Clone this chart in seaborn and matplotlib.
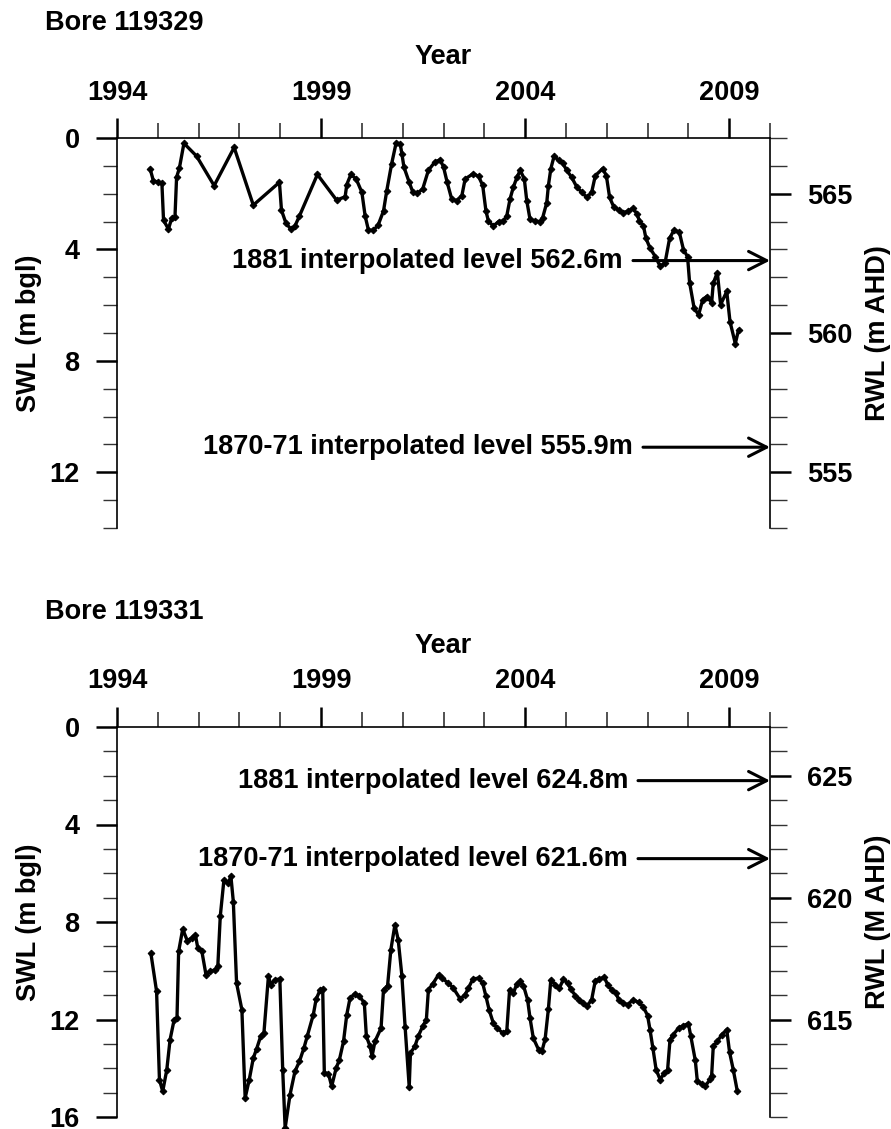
import numpy as np
import pandas as pd
import matplotlib
matplotlib.use("Agg")
import matplotlib.pyplot as plt
from matplotlib.ticker import MultipleLocator
import seaborn as sns

# ---- Bore 119329 : standing water level (m below ground) ----
years_119329 = [
    1994.81, 1994.89, 1995.01, 1995.10, 1995.14, 1995.26, 1995.34, 1995.42, 1995.46, 1995.53,
    1995.64, 1995.95, 1996.38, 1996.87, 1997.34, 1997.98, 1998.03, 1998.14, 1998.26, 1998.36,
    1998.47, 1998.91, 1999.38, 1999.59, 1999.63, 1999.73, 1999.86, 2000.00, 2000.08, 2000.16,
    2000.28, 2000.40, 2000.53, 2000.61, 2000.73, 2000.84, 2000.94, 2000.98, 2001.03, 2001.16,
    2001.25, 2001.36, 2001.49, 2001.63, 2001.79, 2001.92, 2002.00, 2002.09, 2002.20, 2002.32,
    2002.45, 2002.53, 2002.73, 2002.86, 2002.96, 2003.04, 2003.10, 2003.22, 2003.35, 2003.47,
    2003.55, 2003.63, 2003.71, 2003.80, 2003.88, 2003.98, 2004.04, 2004.12, 2004.24, 2004.37,
    2004.43, 2004.53, 2004.57, 2004.63, 2004.71, 2004.82, 2004.92, 2005.02, 2005.14, 2005.27,
    2005.39, 2005.51, 2005.63, 2005.72, 2005.90, 2005.99, 2006.07, 2006.17, 2006.29, 2006.41,
    2006.53, 2006.64, 2006.74, 2006.80, 2006.90, 2006.96, 2007.06, 2007.19, 2007.31, 2007.43,
    2007.54, 2007.65, 2007.78, 2007.88, 2007.98, 2008.03, 2008.14, 2008.25, 2008.35, 2008.45,
    2008.57, 2008.61, 2008.71, 2008.79, 2008.94, 2009.02, 2009.15, 2009.23,
]
swl_119329 = [
    1.10, 1.53, 1.59, 1.62, 2.95, 3.27, 2.88, 2.85, 1.41, 1.07,
    0.19, 0.65, 1.71, 0.34, 2.41, 1.59, 2.59, 3.06, 3.27, 3.16,
    2.80, 1.31, 2.23, 2.11, 1.67, 1.31, 1.47, 1.95, 2.80, 3.30,
    3.32, 3.12, 2.62, 1.89, 0.92, 0.17, 0.22, 0.56, 1.04, 1.59,
    1.95, 1.98, 1.83, 1.16, 0.86, 0.78, 1.04, 1.59, 2.19, 2.25,
    2.07, 1.47, 1.28, 1.38, 1.70, 2.62, 2.98, 3.16, 3.00, 2.98,
    2.80, 2.19, 1.77, 1.41, 1.16, 1.47, 2.25, 2.92, 2.98, 3.00,
    2.86, 2.32, 1.71, 1.10, 0.65, 0.80, 0.90, 1.16, 1.41, 1.77,
    1.95, 2.13, 1.95, 1.35, 1.10, 1.35, 2.13, 2.47, 2.59, 2.68,
    2.62, 2.52, 2.72, 2.98, 3.16, 3.60, 3.95, 4.26, 4.61, 4.47,
    3.60, 3.30, 3.39, 4.01, 4.26, 5.19, 6.10, 6.35, 5.81, 5.69,
    5.91, 5.21, 4.83, 5.98, 5.51, 6.59, 7.38, 6.88,
]

# ---- Bore 119331 : standing water level (m below ground) ----
years_119331 = [
    1994.83, 1994.97, 1995.04, 1995.12, 1995.22, 1995.30, 1995.40, 1995.47, 1995.51, 1995.61,
    1995.72, 1995.83, 1995.92, 1995.98, 1996.08, 1996.18, 1996.28, 1996.40, 1996.47, 1996.53,
    1996.62, 1996.73, 1996.79, 1996.85, 1996.93, 1997.06, 1997.14, 1997.24, 1997.34, 1997.42,
    1997.52, 1997.60, 1997.71, 1997.77, 1997.87, 1997.99, 1998.06, 1998.12, 1998.24, 1998.36,
    1998.47, 1998.58, 1998.66, 1998.81, 1998.88, 1998.98, 1999.04, 1999.08, 1999.18, 1999.26,
    1999.37, 1999.45, 1999.55, 1999.63, 1999.71, 1999.83, 1999.94, 2000.06, 2000.11, 2000.20,
    2000.25, 2000.32, 2000.47, 2000.53, 2000.63, 2000.71, 2000.81, 2000.89, 2000.98, 2001.06,
    2001.16, 2001.19, 2001.30, 2001.38, 2001.49, 2001.58, 2001.63, 2001.74, 2001.88, 2001.96,
    2002.12, 2002.24, 2002.41, 2002.53, 2002.61, 2002.72, 2002.86, 2002.96, 2003.04, 2003.12,
    2003.22, 2003.31, 2003.45, 2003.55, 2003.62, 2003.71, 2003.80, 2003.88, 2003.96, 2004.06,
    2004.12, 2004.20, 2004.33, 2004.41, 2004.49, 2004.57, 2004.63, 2004.74, 2004.84, 2004.94,
    2005.04, 2005.12, 2005.23, 2005.33, 2005.43, 2005.51, 2005.63, 2005.72, 2005.82, 2005.94,
    2006.02, 2006.12, 2006.23, 2006.29, 2006.39, 2006.51, 2006.65, 2006.78, 2006.90, 2007.00,
    2007.06, 2007.13, 2007.21, 2007.31, 2007.41, 2007.49, 2007.55, 2007.63, 2007.76, 2007.88,
    2008.00, 2008.06, 2008.17, 2008.22, 2008.33, 2008.41, 2008.54, 2008.57, 2008.61, 2008.71,
    2008.82, 2008.94, 2009.01, 2009.10, 2009.20,
]
swl_119331 = [
    9.28, 10.85, 14.47, 14.95, 14.06, 12.83, 12.01, 11.94, 9.21, 8.29,
    8.76, 8.66, 8.52, 9.07, 9.21, 10.16, 10.03, 9.96, 9.82, 7.77,
    6.27, 6.41, 6.11, 7.16, 10.51, 11.60, 15.22, 14.47, 13.58, 13.21,
    12.69, 12.55, 10.23, 10.57, 10.37, 10.34, 14.06, 16.45, 15.08, 14.13,
    13.72, 13.17, 12.69, 11.80, 11.16, 10.78, 10.75, 14.19, 14.22, 14.74,
    13.99, 13.65, 12.90, 11.80, 11.12, 10.94, 11.05, 11.32, 12.69, 13.10,
    13.51, 12.90, 12.35, 10.78, 10.61, 9.14, 8.11, 8.73, 10.20, 12.32,
    14.77, 13.38, 13.10, 12.69, 12.28, 12.01, 10.78, 10.53, 10.16, 10.30,
    10.51, 10.71, 11.16, 10.98, 10.71, 10.34, 10.30, 10.51, 11.05, 11.62,
    12.14, 12.35, 12.55, 12.49, 10.78, 10.92, 10.53, 10.44, 10.61, 11.19,
    11.94, 12.76, 13.24, 13.31, 12.80, 11.57, 10.37, 10.57, 10.71, 10.34,
    10.51, 10.75, 11.02, 11.19, 11.32, 11.46, 11.19, 10.40, 10.34, 10.26,
    10.57, 10.78, 10.92, 11.19, 11.32, 11.39, 11.19, 11.30, 11.49, 11.84,
    12.42, 13.17, 14.06, 14.47, 14.19, 14.08, 12.83, 12.62, 12.35, 12.25,
    12.17, 12.69, 13.68, 14.54, 14.63, 14.74, 14.44, 14.30, 13.10, 12.90,
    12.62, 12.42, 13.35, 14.06, 14.95,
]

# ---- Bore metadata ----
bore_names = ["Bore 119329", "Bore 119331"]
ground_rl = [567.0, 627.0]            # reduced level of ground surface (m AHD)
swl_depth_max = [14, 16]              # depth shown on the SWL axis
rwl_labels = ["RWL (m AHD)", "RWL (M AHD)"]
level_labels = [
    ["1881 interpolated level", "1870-71 interpolated level"],
    ["1881 interpolated level", "1870-71 interpolated level"],
]
level_values = [[562.6, 555.9], [624.8, 621.6]]
year_ticks = [1994, 1999, 2004, 2009]

# ---- Style ----
sns.set_style("ticks")
plt.rcParams["font.family"] = ["Liberation Sans", "DejaVu Sans"]
plt.rcParams["font.weight"] = "bold"
plt.rcParams["axes.labelweight"] = "bold"
for key in ["text.color", "axes.labelcolor", "xtick.color", "ytick.color",
            "xtick.labelcolor", "ytick.labelcolor"]:
    plt.rcParams[key] = "black"
FS = 19.5

W, H = 891, 1129
fig = plt.figure(figsize=(W / 100, H / 100), dpi=100)

panel_top_px = [138, 727]
ax_left_px, ax_right_px, ax_h_px = 117, 770, 390
ax_w_px = ax_right_px - ax_left_px
text_end_px = [[623, 633], [628, 628]]

series = [
    pd.DataFrame({"Year": years_119329, "SWL": swl_119329}),
    pd.DataFrame({"Year": years_119331, "SWL": swl_119331}),
]

for i in range(2):
    top = panel_top_px[i]
    rect = [ax_left_px / W, 1 - (top + ax_h_px) / H, ax_w_px / W, ax_h_px / H]
    ax = fig.add_axes(rect)
    df = series[i]
    sns.lineplot(data=df, x="Year", y="SWL", ax=ax, color="black",
                 linewidth=2.4, marker="D", markersize=3.4,
                 markeredgecolor="black", estimator=None, sort=False,
                 clip_on=False)

    ax.set_xlim(1994, 2010)
    ax.set_ylim(swl_depth_max[i], 0)

    # x axis on top
    ax.xaxis.tick_top()
    ax.xaxis.set_label_position("top")
    ax.set_xticks(year_ticks)
    ax.set_xticklabels([str(y) for y in year_ticks])
    ax.xaxis.set_minor_locator(MultipleLocator(1))
    ax.tick_params(axis="x", which="major", direction="out", length=14.4,
                   width=1.8, pad=9, labelsize=FS, top=True, bottom=False,
                   labeltop=True, labelbottom=False, color="black")
    ax.tick_params(axis="x", which="minor", direction="out", length=10.8,
                   width=1.1, top=True, bottom=False, color="#222222")
    ax.set_xlabel("Year", fontsize=FS, fontweight="bold")
    ax.xaxis.set_label_coords(0.5, 1 + 81 / ax_h_px)
    ax.xaxis.label.set_va("center")

    # left SWL axis
    ax.yaxis.set_major_locator(MultipleLocator(4))
    ax.yaxis.set_minor_locator(MultipleLocator(1))
    ax.tick_params(axis="y", which="major", direction="out", length=15,
                   width=1.8, pad=12, labelsize=FS, left=True, right=False,
                   color="black")
    ax.tick_params(axis="y", which="minor", direction="out", length=10,
                   width=1.0, left=True, right=False, color="#333333")
    ax.set_ylabel("SWL (m bgl)", fontsize=FS, fontweight="bold")
    ax.yaxis.set_label_coords((29 - ax_left_px) / ax_w_px, 0.5)
    ax.yaxis.label.set_va("center")

    for side in ["left", "top"]:
        ax.spines[side].set_linewidth(1.2)
        ax.spines[side].set_color("black")
    ax.spines["bottom"].set_visible(False)
    ax.spines["right"].set_visible(False)

    # right RWL axis derived from the ground level
    g = ground_rl[i]
    sec = ax.secondary_yaxis("right", functions=(lambda s, g=g: g - s,
                                                  lambda r, g=g: g - r))
    sec.yaxis.set_major_locator(MultipleLocator(5))
    sec.yaxis.set_minor_locator(MultipleLocator(1))
    sec.tick_params(axis="y", which="major", direction="out", length=15,
                    width=1.8, pad=11.5, labelsize=FS, color="black")
    sec.tick_params(axis="y", which="minor", direction="out", length=12,
                    width=1.0, color="#333333")
    sec.spines["right"].set_linewidth(1.2)
    sec.spines["right"].set_color("black")
    fig.text(878 / W, 1 - (top + ax_h_px / 2) / H, rwl_labels[i],
             rotation=90, ha="center", va="center", fontsize=FS,
             fontweight="bold")

    # historic interpolated levels, arrows pointing to the RWL axis
    trans = ax.get_yaxis_transform()
    for j, (lab, lev) in enumerate(zip(level_labels[i], level_values[i])):
        y = g - lev
        xe = (text_end_px[i][j] - ax_left_px) / ax_w_px
        ax.text(xe, y, f"{lab} {lev:.1f}m", transform=trans, ha="right",
                va="center", fontsize=FS, fontweight="bold")
        ax.annotate("", xy=(1.0, y), xytext=(xe + 10 / ax_w_px, y),
                    xycoords=trans, textcoords=trans,
                    arrowprops=dict(arrowstyle="->,head_length=0.65,head_width=0.33",
                                    lw=2.2, color="black", shrinkA=0, shrinkB=0,
                                    mutation_scale=20))

    fig.text(45 / W, 1 - (23 + (top - 138)) / H, bore_names[i], ha="left",
             va="center", fontsize=FS, fontweight="bold")

fig.savefig("out.png", dpi=100, facecolor="white")
